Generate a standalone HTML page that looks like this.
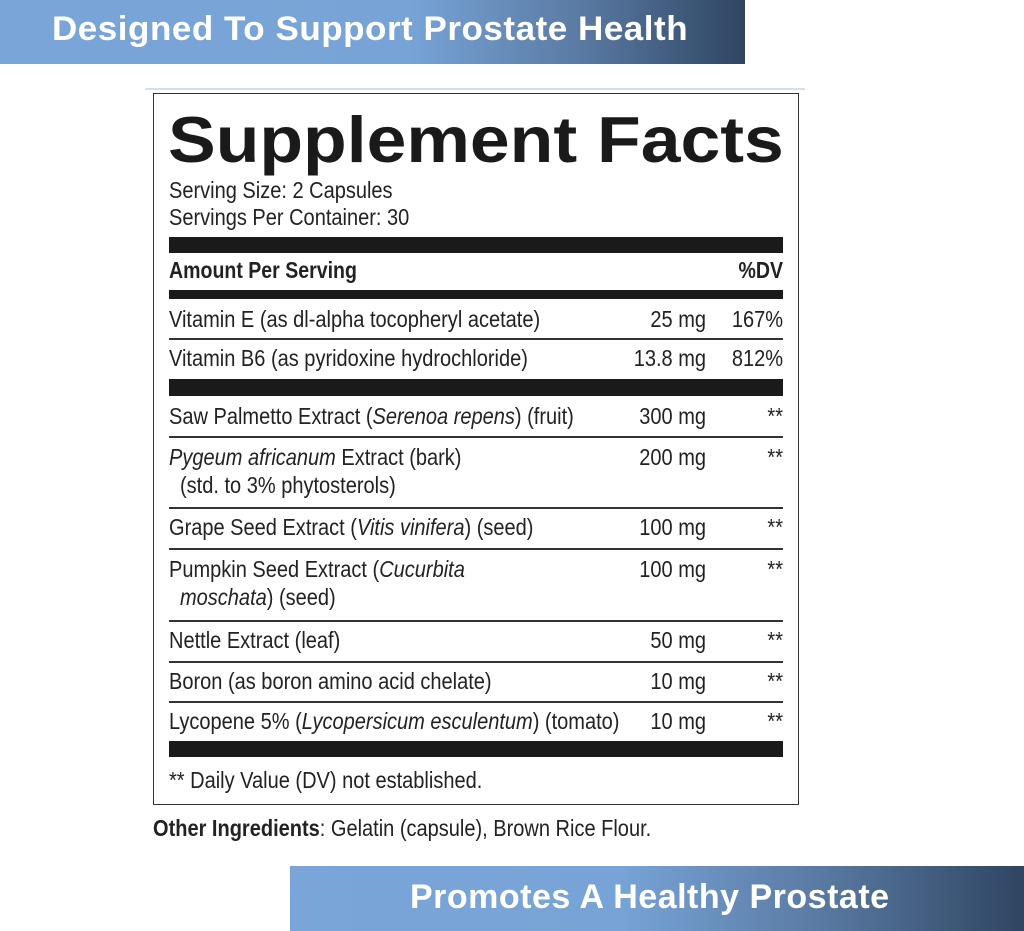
<!DOCTYPE html>
<html><head><style>
body{margin:0;width:1024px;height:931px;background:#fff;position:relative;overflow:hidden;font-family:"Liberation Sans",sans-serif;color:#222}
.ban{position:absolute;color:#fff;font-family:"Comic Sans MS","Liberation Sans",sans-serif;font-weight:bold;font-size:34px;letter-spacing:0.5px}
.t{position:absolute;font-size:23px;white-space:nowrap;transform:scaleX(0.87);transform-origin:left top}
.r{text-align:right;transform-origin:right top}
.bar{position:absolute;left:169px;width:614px;background:#1a1a1a}
.ln{position:absolute;left:169px;width:614px;height:1.5px;background:#333}
</style></head><body>
<div class="ban" style="left:0;top:0;width:745px;height:64px;background:linear-gradient(90deg,#7aa5d8 0%,#77a3d6 55%,#5a7aa3 78%,#2f4562 100%)"><span style="position:absolute;left:52px;top:10px;transform:scaleX(1.03);transform-origin:left">Designed To Support Prostate Health</span></div>
<div class="ban" style="left:290px;top:866px;width:734px;height:65px;background:linear-gradient(90deg,#7aa5d8 0%,#77a3d6 45%,#5a7aa3 72%,#2f4562 100%)"><span style="position:absolute;left:120px;top:12px">Promotes A Healthy Prostate</span></div>
<div style="position:absolute;left:145px;top:88px;width:660px;height:2px;background:#cfe0ee"></div>
<div style="position:absolute;left:153px;top:93px;width:644px;height:710px;border:1.5px solid #333"></div>
<div style="position:absolute;left:168px;top:102px;font-weight:bold;font-size:65px;color:#1a1a1a;transform:scaleX(1.1);transform-origin:left top;white-space:nowrap">Supplement Facts</div>
<div class="t" style="left:169px;top:177px">Serving Size: 2 Capsules</div>
<div class="t" style="left:169px;top:204px">Servings Per Container: 30</div>
<div class="bar" style="top:237px;height:16px"></div>
<div class="t" style="left:169px;top:257px;font-weight:bold;transform:scaleX(0.85)">Amount Per Serving</div>
<div class="t r" style="left:700px;width:83px;top:257px;font-weight:bold;transform:scaleX(0.85)">%DV</div>
<div class="bar" style="top:290px;height:9px"></div>
<div class="t" style="left:169px;top:306px">Vitamin E (as dl-alpha tocopheryl acetate)</div>
<div class="t r" style="left:600px;width:106px;top:306px">25 mg</div>
<div class="t r" style="left:700px;width:83px;top:306px">167%</div>
<div class="ln" style="top:338px"></div>
<div class="t" style="left:169px;top:345px">Vitamin B6 (as pyridoxine hydrochloride)</div>
<div class="t r" style="left:600px;width:106px;top:345px">13.8 mg</div>
<div class="t r" style="left:700px;width:83px;top:345px">812%</div>
<div class="bar" style="top:379px;height:17px"></div>
<div class="t" style="left:169px;top:403px">Saw Palmetto Extract (<i>Serenoa repens</i>) (fruit)</div>
<div class="t r" style="left:600px;width:106px;top:403px">300 mg</div>
<div class="t r" style="left:700px;width:83px;top:403px">**</div>
<div class="ln" style="top:436px"></div>
<div class="t" style="left:169px;top:444px"><i>Pygeum africanum</i> Extract (bark)</div>
<div class="t" style="left:180px;top:472px">(std. to 3% phytosterols)</div>
<div class="t r" style="left:600px;width:106px;top:444px">200 mg</div>
<div class="t r" style="left:700px;width:83px;top:444px">**</div>
<div class="ln" style="top:507px"></div>
<div class="t" style="left:169px;top:514px">Grape Seed Extract (<i>Vitis vinifera</i>) (seed)</div>
<div class="t r" style="left:600px;width:106px;top:514px">100 mg</div>
<div class="t r" style="left:700px;width:83px;top:514px">**</div>
<div class="ln" style="top:548px"></div>
<div class="t" style="left:169px;top:556px">Pumpkin Seed Extract (<i>Cucurbita</i></div>
<div class="t" style="left:180px;top:584px"><i>moschata</i>) (seed)</div>
<div class="t r" style="left:600px;width:106px;top:556px">100 mg</div>
<div class="t r" style="left:700px;width:83px;top:556px">**</div>
<div class="ln" style="top:620px"></div>
<div class="t" style="left:169px;top:627px">Nettle Extract (leaf)</div>
<div class="t r" style="left:600px;width:106px;top:627px">50 mg</div>
<div class="t r" style="left:700px;width:83px;top:627px">**</div>
<div class="ln" style="top:661px"></div>
<div class="t" style="left:169px;top:668px">Boron (as boron amino acid chelate)</div>
<div class="t r" style="left:600px;width:106px;top:668px">10 mg</div>
<div class="t r" style="left:700px;width:83px;top:668px">**</div>
<div class="ln" style="top:701px"></div>
<div class="t" style="left:169px;top:708px">Lycopene 5% (<i>Lycopersicum esculentum</i>) (tomato)</div>
<div class="t r" style="left:600px;width:106px;top:708px">10 mg</div>
<div class="t r" style="left:700px;width:83px;top:708px">**</div>
<div class="bar" style="top:741px;height:16px"></div>
<div class="t" style="left:169px;top:767px">** Daily Value (DV) not established.</div>
<div class="t" style="left:153px;top:815px"><b>Other Ingredients</b>: Gelatin (capsule), Brown Rice Flour.</div>
</body></html>
